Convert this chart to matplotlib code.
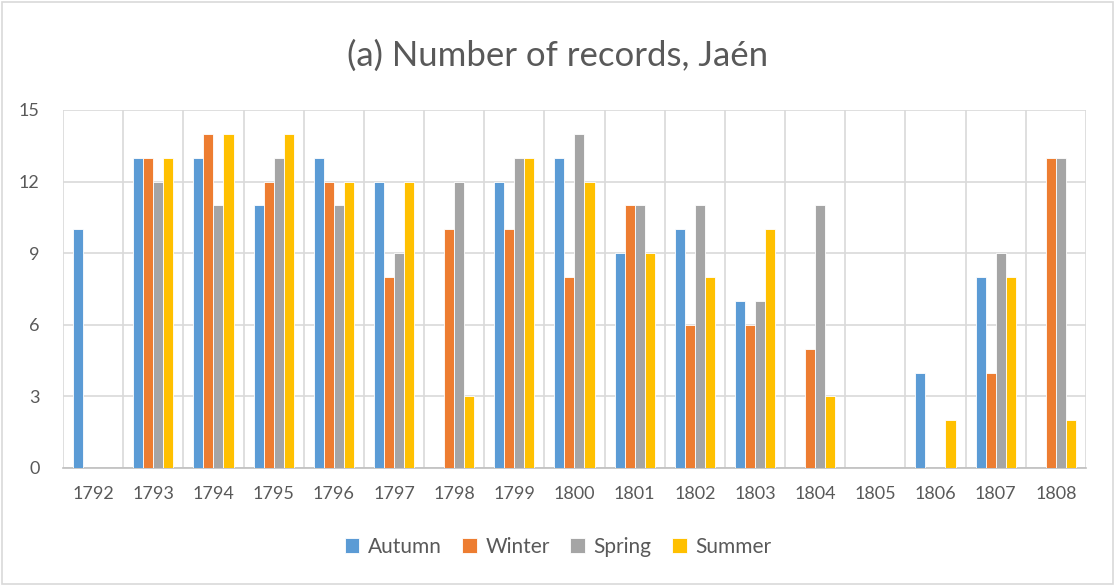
import numpy as np
import matplotlib.pyplot as plt
from matplotlib.patches import Rectangle

years = ['1792', '1793', '1794', '1795', '1796', '1797', '1798', '1799', '1800',
         '1801', '1802', '1803', '1804', '1805', '1806', '1807', '1808']
autumn = [10, 13, 13, 11, 13, 12, 0, 12, 13, 9, 10, 7, 0, 0, 4, 8, 0]
winter = [0, 13, 14, 12, 12, 8, 10, 10, 8, 11, 6, 6, 5, 0, 0, 4, 13]
spring = [0, 12, 11, 13, 11, 9, 12, 13, 14, 11, 11, 7, 11, 0, 0, 9, 13]
summer = [0, 13, 14, 14, 12, 12, 3, 13, 12, 9, 8, 10, 3, 0, 2, 8, 2]

series = [('Autumn', autumn, '#5B9BD5'),
          ('Winter', winter, '#ED7D31'),
          ('Spring', spring, '#A5A5A5'),
          ('Summer', summer, '#FFC000')]

plt.rcParams['font.family'] = ['Lato', 'DejaVu Sans']

fig = plt.figure(figsize=(11.16, 5.86), dpi=100)
ax = fig.add_axes([0.0565, 0.2014, 0.9165, 0.611])

x = np.arange(len(years))
w = 1 / 6
for i, (name, vals, col) in enumerate(series):
    ax.bar(x + (i - 1.5) * w, vals, width=w, color=col, label=name,
           edgecolor='white', linewidth=0.6, zorder=3)

ax.set_xlim(-0.5, len(years) - 0.5)
ax.set_ylim(0, 15)
ax.set_yticks([0, 3, 6, 9, 12, 15])
ax.set_xticks(x)
ax.set_xticklabels(years)

# category boundaries as vertical gridlines
for b in np.arange(-0.5, len(years), 1):
    ax.axvline(b, color='#D9D9D9', linewidth=1.2, zorder=1)
ax.yaxis.grid(True, color='#D9D9D9', linewidth=1.2, zorder=1)
ax.set_axisbelow(True)

for s in ['top', 'left', 'right']:
    ax.spines[s].set_visible(False)
ax.spines['bottom'].set_color('#BFBFBF')
ax.spines['bottom'].set_linewidth(1.2)
ax.tick_params(axis='both', length=0, colors='#595959', labelsize=13)
ax.tick_params(axis='x', pad=13)
ax.tick_params(axis='y', pad=17)

fig.text(0.5, 0.905, '(a) Number of records, Jaén', ha='center', va='center',
         fontsize=25, color='#595959')

fig.legend(loc='center', bbox_to_anchor=(0.5, 0.067), ncol=4, frameon=False,
           fontsize=15, handlelength=0.7, handleheight=0.7, columnspacing=1.0,
           handletextpad=0.4, labelcolor='#595959')

fig.patches.append(Rectangle((0.002, 0.003), 0.995, 0.994, transform=fig.transFigure,
                             fill=False, edgecolor='#D9D9D9', linewidth=1.2))

fig.savefig('out.png', dpi=100)
